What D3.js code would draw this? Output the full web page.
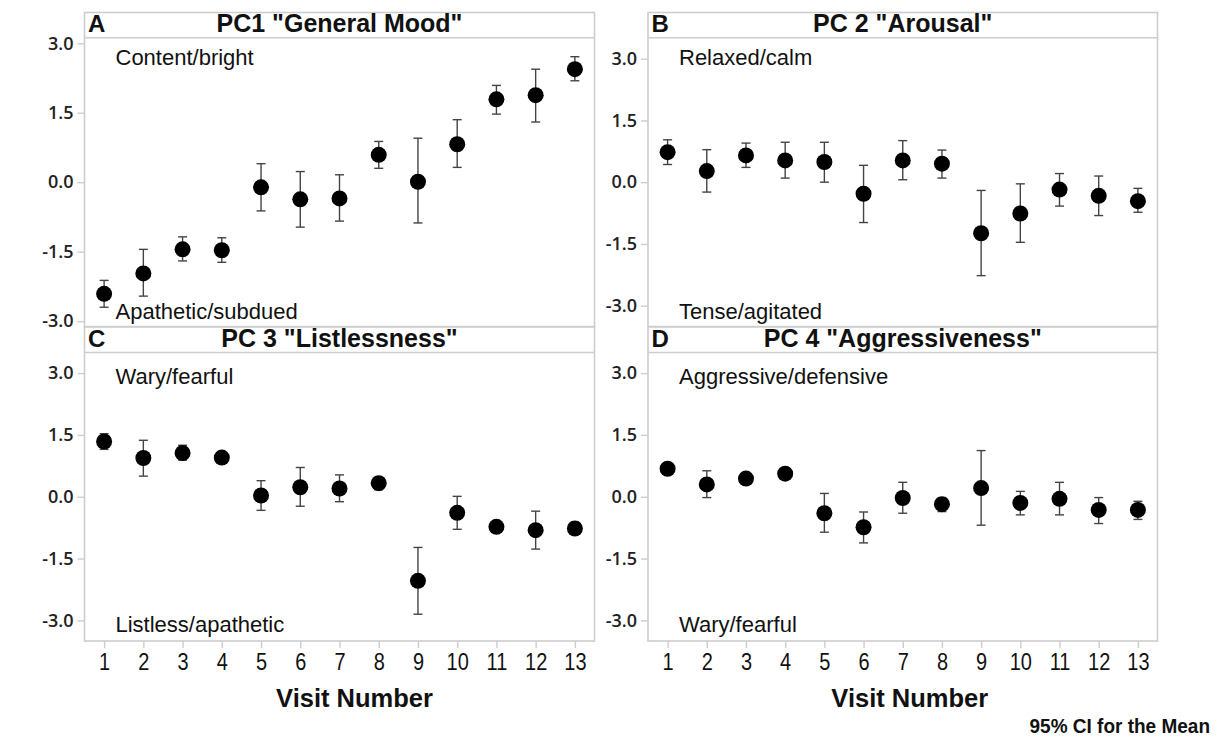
<!DOCTYPE html>
<html>
<head>
<meta charset="utf-8">
<script src="https://cdn.jsdelivr.net/npm/d3@7"></script>
<style>
  html, body { margin: 0; padding: 0; background: #fff; }
  svg { display: block; font-family: "Liberation Sans", Arial, sans-serif; }
</style>
</head>
<body>
<svg id="chart" width="1225" height="738"></svg>
<script>
// Visit numbers shared by all four component panels
const visits = [1, 2, 3, 4, 5, 6, 7, 8, 9, 10, 11, 12, 13];
const yTickValues = [-3, -1.5, 0, 1.5, 3];

// PC1 "General Mood": means and 95% CI bounds
const pc1Mean  = [-2.41, -1.97, -1.45, -1.47, -0.11, -0.37, -0.35, 0.59, 0.01, 0.82, 1.79, 1.88, 2.44];
const pc1Upper = [-2.12, -1.45, -1.18, -1.20, 0.40, 0.23, 0.16, 0.88, 0.95, 1.35, 2.09, 2.44, 2.71];
const pc1Lower = [-2.70, -2.46, -1.70, -1.73, -0.62, -0.97, -0.84, 0.30, -0.88, 0.32, 1.47, 1.30, 2.19];

// PC2 "Arousal"
const pc2Mean  = [0.73, 0.27, 0.65, 0.53, 0.49, -0.28, 0.53, 0.45, -1.24, -0.76, -0.18, -0.33, -0.46];
const pc2Upper = [1.03, 0.79, 0.95, 0.97, 0.97, 0.41, 1.01, 0.78, -0.20, -0.04, 0.21, 0.15, -0.15];
const pc2Lower = [0.43, -0.24, 0.36, 0.10, 0.00, -0.98, 0.06, 0.10, -2.27, -1.46, -0.58, -0.81, -0.73];

// PC3 "Listlessness"
const pc3Mean  = [1.34, 0.94, 1.06, 0.95, 0.03, 0.23, 0.20, 0.33, -2.04, -0.39, -0.73, -0.81, -0.77];
const pc3Upper = [1.53, 1.37, 1.25, 1.03, 0.39, 0.71, 0.53, 0.47, -1.23, 0.01, -0.61, -0.35, -0.62];
const pc3Lower = [1.15, 0.50, 0.89, 0.87, -0.33, -0.23, -0.12, 0.17, -2.85, -0.79, -0.86, -1.27, -0.91];

// PC4 "Aggressiveness"
const pc4Mean  = [0.68, 0.30, 0.44, 0.56, -0.40, -0.74, -0.03, -0.18, 0.21, -0.15, -0.05, -0.32, -0.32];
const pc4Upper = [0.76, 0.63, 0.53, 0.65, 0.08, -0.37, 0.35, -0.03, 1.12, 0.13, 0.35, -0.02, -0.11];
const pc4Lower = [0.60, -0.02, 0.35, 0.47, -0.86, -1.12, -0.40, -0.36, -0.69, -0.44, -0.44, -0.65, -0.55];

// Panel letters, titles and the pole labels of each component
const panelLetters = ["A", "B", "C", "D"];
const panelTitles = ['PC1 "General Mood"', 'PC 2 "Arousal"', 'PC 3 "Listlessness"', 'PC 4 "Aggressiveness"'];
const highLabels = ["Content/bright", "Relaxed/calm", "Wary/fearful", "Aggressive/defensive"];
const lowLabels  = ["Apathetic/subdued", "Tense/agitated", "Listless/apathetic", "Wary/fearful"];
const xAxisTitle = "Visit Number";
const footnote = "95% CI for the Mean";

const means  = [pc1Mean, pc2Mean, pc3Mean, pc4Mean];
const uppers = [pc1Upper, pc2Upper, pc3Upper, pc4Upper];
const lowers = [pc1Lower, pc2Lower, pc3Lower, pc4Lower];

// ---- layout ----
const cols = [{ x0: 84.5, x1: 594.5, titleDx: 15 }, { x0: 648, x1: 1157.5, titleDx: 7 }];
const rows = [
  { top: 12.5, head: 37.7, bottom: 326.7, highDy: 27.3, lowDy: 8 },
  { top: 326.7, head: 352.5, bottom: 641, highDy: 31.5, lowDy: 9 }
];
const yExtent = [3.12, 3.51, 3.5, 3.5];
const frameColor = "#cdcdcd";
const textColor = "#111";

const svg = d3.select("#chart");
// plain hyphen for negative tick values
const locale = d3.formatLocale({ decimal: ".", thousands: ",", grouping: [3], currency: ["", ""], minus: "-" });
const fmt = locale.format(".1f");

panelTitles.forEach((title, i) => {
  const col = cols[i % 2], row = rows[Math.floor(i / 2)];
  const isBottom = i >= 2;

  const x = d3.scaleLinear().domain([0.5, 13.5]).range([col.x0, col.x1]);
  const y = d3.scaleLinear().domain([-yExtent[i], yExtent[i]]).range([row.bottom, row.head]);

  const g = svg.append("g");

  // Frame and header strip
  g.append("rect")
    .attr("x", col.x0).attr("y", row.top)
    .attr("width", col.x1 - col.x0).attr("height", row.bottom - row.top)
    .attr("fill", "none").attr("stroke", frameColor).attr("stroke-width", 1.6);
  g.append("line")
    .attr("x1", col.x0).attr("x2", col.x1)
    .attr("y1", row.head).attr("y2", row.head)
    .attr("stroke", frameColor).attr("stroke-width", 1.6);

  g.append("text")
    .attr("x", col.x0 + 3.5).attr("y", row.head - 5.5)
    .attr("font-size", 24).attr("font-weight", "bold").attr("fill", textColor)
    .text(panelLetters[i]);
  g.append("text")
    .attr("x", (col.x0 + col.x1) / 2).attr("y", row.head - 5.5)
    .attr("text-anchor", "middle")
    .attr("font-size", 25).attr("font-weight", "bold").attr("fill", textColor)
    .text(title);

  // Y axis
  const yAxis = g.append("g")
    .attr("transform", `translate(${col.x0},0)`)
    .call(d3.axisLeft(y).tickValues(yTickValues).tickFormat(fmt).tickSize(7).tickPadding(4));
  yAxis.select(".domain").remove();
  yAxis.selectAll(".tick line").attr("stroke", frameColor).attr("stroke-width", 1.4);
  yAxis.selectAll(".tick text")
    .attr("font-family", "'Open Sans', 'Liberation Sans', sans-serif")
    .attr("font-weight", 600)
    .attr("font-size", 18).attr("fill", "#222");

  // X axis (bottom row only)
  if (isBottom) {
    const xAxis = g.append("g")
      .attr("transform", `translate(0,${row.bottom})`)
      .call(d3.axisBottom(x).tickValues(visits).tickFormat(d3.format("d")).tickSize(7).tickPadding(5));
    xAxis.select(".domain").remove();
    xAxis.selectAll(".tick line").attr("stroke", frameColor).attr("stroke-width", 1.4);
    xAxis.selectAll(".tick text")
      .attr("font-size", 23.5).attr("fill", textColor)
      .attr("transform", "scale(0.85,1)");

    g.append("text")
      .attr("transform", `translate(${(col.x0 + col.x1) / 2 + col.titleDx},${707})`)
      .attr("text-anchor", "middle")
      .attr("font-size", 25.5).attr("font-weight", "bold").attr("fill", textColor)
      .text(xAxisTitle);
  }

  // Pole labels
  g.append("text")
    .attr("x", col.x0 + 31).attr("y", row.head + row.highDy)
    .attr("font-size", 22).attr("fill", textColor)
    .text(highLabels[i]);
  g.append("text")
    .attr("x", col.x0 + 31).attr("y", row.bottom - row.lowDy)
    .attr("font-size", 22).attr("fill", textColor)
    .text(lowLabels[i]);

  // Interval bars and means
  const data = visits.map((v, k) => ({ v, m: means[i][k], lo: lowers[i][k], hi: uppers[i][k] }));
  const capHalf = 4.5;
  const bars = g.append("g").attr("stroke", "#444").attr("stroke-width", 1.4);
  bars.selectAll("line.stem").data(data).join("line")
    .attr("class", "stem")
    .attr("x1", d => x(d.v)).attr("x2", d => x(d.v))
    .attr("y1", d => y(d.lo)).attr("y2", d => y(d.hi));
  bars.selectAll("line.capHi").data(data).join("line")
    .attr("class", "capHi")
    .attr("x1", d => x(d.v) - capHalf).attr("x2", d => x(d.v) + capHalf)
    .attr("y1", d => y(d.hi)).attr("y2", d => y(d.hi));
  bars.selectAll("line.capLo").data(data).join("line")
    .attr("class", "capLo")
    .attr("x1", d => x(d.v) - capHalf).attr("x2", d => x(d.v) + capHalf)
    .attr("y1", d => y(d.lo)).attr("y2", d => y(d.lo));
  g.append("g").selectAll("circle").data(data).join("circle")
    .attr("cx", d => x(d.v)).attr("cy", d => y(d.m))
    .attr("r", 8).attr("fill", "#000");
});

// Footnote
svg.append("text")
  .attr("transform", "translate(1210,733) scale(0.95,1)")
  .attr("text-anchor", "end")
  .attr("font-size", 20).attr("font-weight", "bold").attr("fill", textColor)
  .text(footnote);
</script>
</body>
</html>
